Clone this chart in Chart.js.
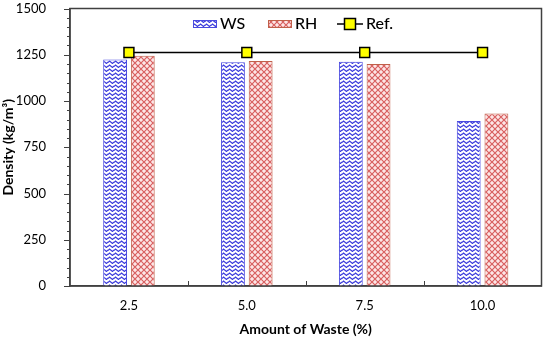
<!DOCTYPE html>
<html><head><meta charset="utf-8">
<script src="https://cdn.jsdelivr.net/npm/chart.js@4/dist/chart.umd.min.js"></script>
<style>html,body{margin:0;padding:0;background:#fff}#wrap{width:550px;height:338px}</style>
</head><body><div id="wrap"><canvas id="c" width="550" height="338"></canvas></div>
<script>
const categories = ['2.5', '5.0', '7.5', '10.0'];
const wsValues = [1225, 1210, 1212, 892];
const rhValues = [1245, 1216, 1200, 932];
const refValues = [1262, 1262, 1262, 1262];
const yTicks = [0, 250, 500, 750, 1000, 1250, 1500];

const FONT = 'Lato, "Open Sans", sans-serif';

function makeCanvas(w, h) { const c = document.createElement('canvas'); c.width = w; c.height = h; return c; }
function wsPattern() {
  const c = makeCanvas(6, 4); const g = c.getContext('2d');
  g.fillStyle = '#ffffff'; g.fillRect(0, 0, 6, 4);
  g.strokeStyle = '#3c3cdc'; g.lineWidth = 1.2;
  g.beginPath(); g.moveTo(0, 2.5); g.lineTo(1.5, 1); g.lineTo(4.5, 3.5); g.lineTo(6, 2); g.stroke();
  return c;
}
function rhPattern() {
  const c = makeCanvas(6, 6); const g = c.getContext('2d');
  g.fillStyle = '#fde6e6'; g.fillRect(0, 0, 6, 6);
  g.strokeStyle = '#d86060'; g.lineWidth = 1.2;
  g.beginPath(); g.moveTo(0, 0); g.lineTo(6, 6); g.moveTo(6, 0); g.lineTo(0, 6); g.stroke();
  return c;
}
const ctx = document.getElementById('c').getContext('2d');
const wsFill = ctx.createPattern(wsPattern(), 'repeat');
const rhFill = ctx.createPattern(rhPattern(), 'repeat');

function iconBar(fill, border) {
  const c = makeCanvas(24, 10); const g = c.getContext('2d');
  g.fillStyle = g.createPattern(fill === 'ws' ? wsPattern() : rhPattern(), 'repeat');
  g.fillRect(0, 1, 24, 8); g.strokeStyle = border; g.lineWidth = 1; g.strokeRect(0.5, 1.5, 23, 7);
  return c;
}
function iconRef() {
  const c = makeCanvas(26, 14); const g = c.getContext('2d');
  g.strokeStyle = '#000'; g.lineWidth = 1.5; g.beginPath(); g.moveTo(0, 7); g.lineTo(26, 7); g.stroke();
  g.fillStyle = '#ffff00'; g.fillRect(7.5, 1.5, 11, 11); g.lineWidth = 1.5; g.strokeRect(7.5, 1.5, 11, 11);
  return c;
}
const legendIcons = [iconBar('ws', '#4a4ae0'), iconBar('rh', '#c0604a'), iconRef()];

const decor = {
  id: 'decor',
  afterDraw(chart) {
    const { ctx, chartArea: a, scales } = chart;
    ctx.save();
    ctx.strokeStyle = '#404040'; ctx.lineWidth = 1.5;
    ctx.strokeRect(a.left, a.top, a.right - a.left, a.bottom - a.top);
    ctx.lineWidth = 1;
    const y = scales.y;
    for (let v = 0; v <= 1500; v += 50) {
      const py = Math.round(y.getPixelForValue(v)) + 0.5;
      const len = v % 250 === 0 ? 6 : 3;
      ctx.beginPath(); ctx.moveTo(a.left - len, py); ctx.lineTo(a.left, py); ctx.stroke();
    }
    const step = (a.right - a.left) / categories.length;
    for (let i = 1; i < categories.length; i++) {
      const px = Math.round(a.left + i * step) + 0.5;
      ctx.beginPath(); ctx.moveTo(px, a.bottom); ctx.lineTo(px, a.bottom - 5); ctx.stroke();
    }
    const items = [['WS', 193], ['RH', 268], ['Ref.', 337]];
    ctx.font = '500 16px ' + FONT; ctx.fillStyle = '#000'; ctx.textBaseline = 'middle';
    items.forEach((it, i) => {
      const ic = legendIcons[i];
      ctx.drawImage(ic, it[1], 24 - ic.height / 2);
      ctx.fillText(it[0], it[1] + ic.width + 3, 24);
    });
    ctx.restore();
  }
};

new Chart(ctx, {
  data: {
    labels: categories,
    datasets: [
      { type: 'line', label: 'Ref.', data: refValues, borderColor: '#000', borderWidth: 1.5,
        pointStyle: 'rect', pointRadius: 7, pointBackgroundColor: '#ffff00', pointBorderColor: '#000',
        pointBorderWidth: 1.5, fill: false, order: 0 },
      { type: 'bar', label: 'WS', data: wsValues, backgroundColor: wsFill, borderColor: '#4a4ae0',
        borderWidth: 1, categoryPercentage: 0.47, barPercentage: 0.86, order: 1 },
      { type: 'bar', label: 'RH', data: rhValues, backgroundColor: rhFill, borderColor: '#c0604a',
        borderWidth: 1, categoryPercentage: 0.47, barPercentage: 0.86, order: 1 }
    ]
  },
  options: {
    responsive: false, animation: false,
    layout: { padding: { left: 0, right: 4, top: 8, bottom: 0 } },
    plugins: { legend: { display: false }, tooltip: { enabled: false } },
    scales: {
      x: {
        offset: true,
        grid: { display: false },
        border: { display: true, color: '#404040', width: 1.5 },
        ticks: { color: '#000', font: { family: FONT, size: 13 }, padding: 4 },
        title: { display: true, text: 'Amount of Waste (%)', color: '#000', font: { family: FONT, size: 14, weight: 'bold' }, padding: { top: 8, bottom: 0 } },
        afterFit(s) { s.height = 52; s.paddingLeft = 0; s.paddingRight = 0; }
      },
      y: {
        min: 0, max: 1500,
        afterBuildTicks(s) { s.ticks = yTicks.map(v => ({ value: v })); },
        grid: { display: false },
        border: { display: true, color: '#404040', width: 1.5 },
        ticks: { color: '#000', font: { family: FONT, size: 13 }, padding: 16, callback: v => String(v) },
        title: { display: true, text: 'Density (kg/m³)', color: '#000', font: { family: FONT, size: 14, weight: 'bold' }, padding: { top: 0, bottom: 4 } },
        afterFit(s) { s.width = 70; s.paddingTop = 0; s.paddingBottom = 0; }
      }
    }
  },
  plugins: [decor]
});
</script></body></html>
